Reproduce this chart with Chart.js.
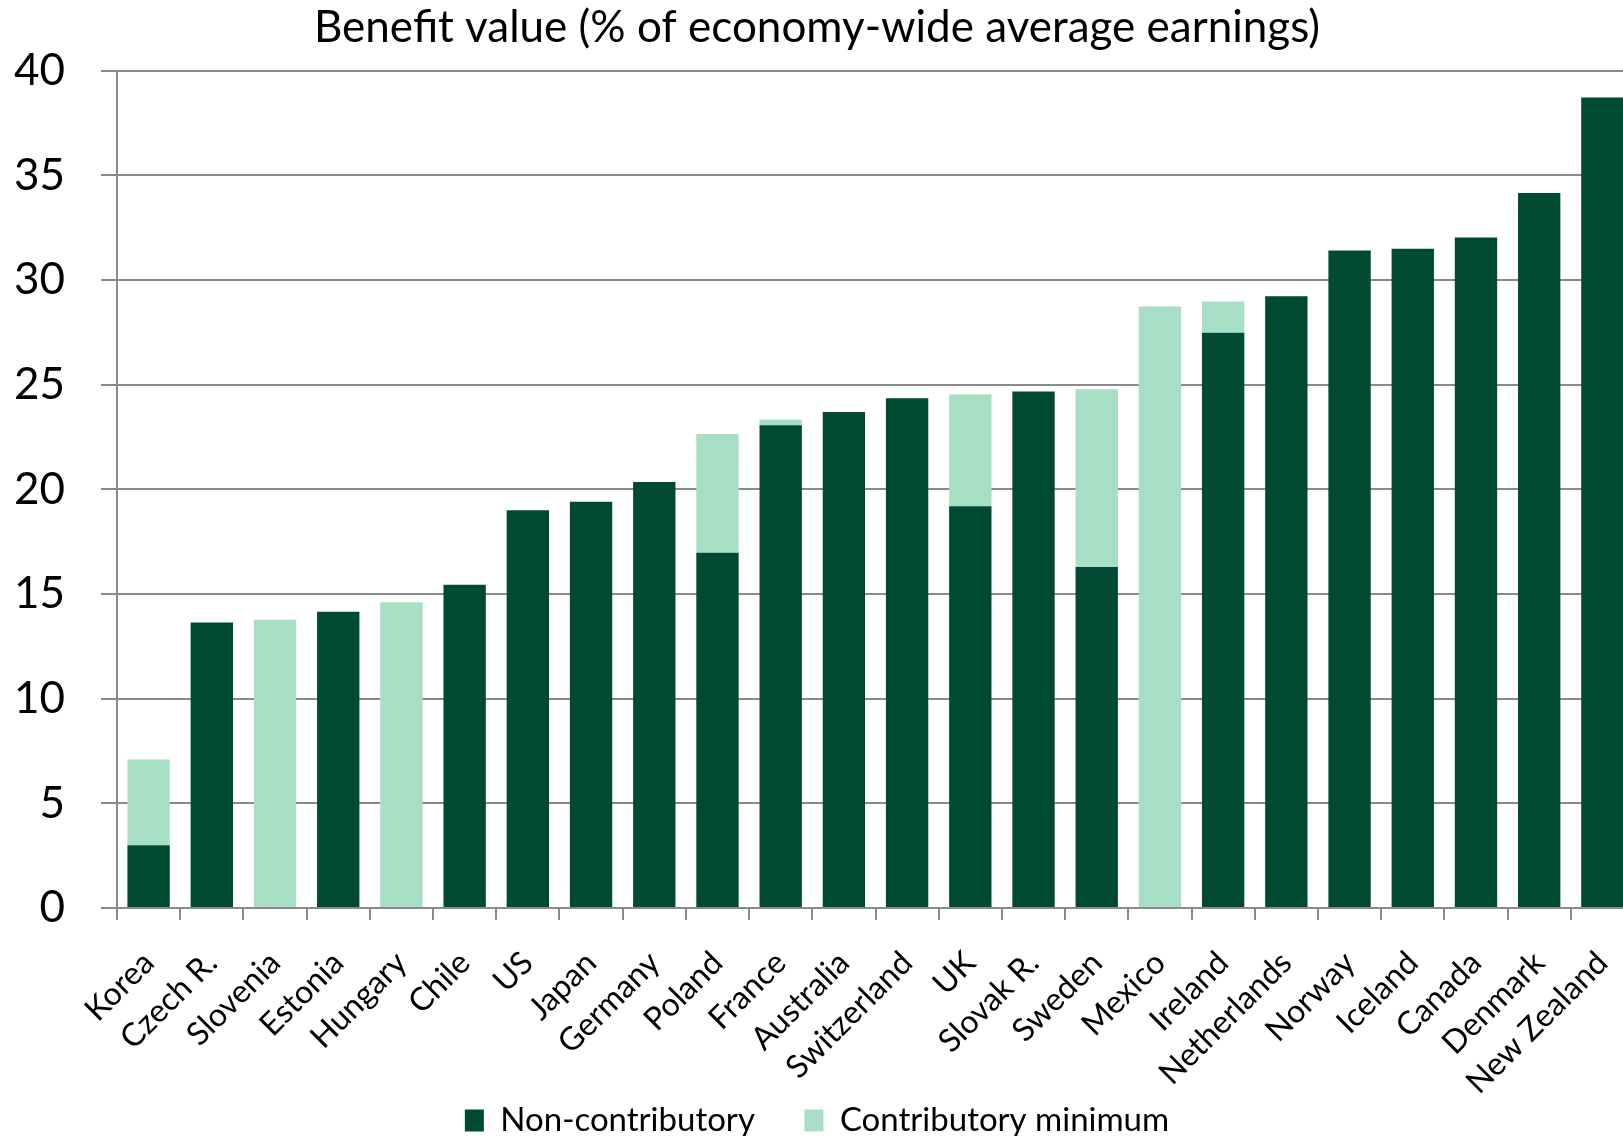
<!DOCTYPE html>
<html lang="en">
<head>
  <meta charset="UTF-8">
  <title>Benefit value</title>
  <script src="https://cdn.jsdelivr.net/npm/chart.js@4"></script>
  <style>
    * { box-sizing: border-box; margin: 0; padding: 0; }
    html, body { width: 1623px; height: 1136px; overflow: hidden; background: #fff; }
    canvas { display: block; }
  </style>
</head>
<body>
  <canvas id="chart" width="1634" height="1136"></canvas>
  <script>
    // ---------- Data ----------
    const countries = ['Korea', 'Czech R.', 'Slovenia', 'Estonia', 'Hungary', 'Chile', 'US', 'Japan',
      'Germany', 'Poland', 'France', 'Australia', 'Switzerland', 'UK', 'Slovak R.', 'Sweden', 'Mexico',
      'Ireland', 'Netherlands', 'Norway', 'Iceland', 'Canada', 'Denmark', 'New Zealand'];
    const nonContributory = [3.0, 13.64, 0, 14.15, 0, 15.45, 19.0, 19.41, 20.35, 16.97, 23.06, 23.7,
      24.36, 19.2, 24.68, 16.29, 0, 27.49, 29.23, 31.42, 31.5, 32.04, 34.16, 38.73];
    // extra amount stacked on top of the non-contributory part
    const contributoryMinimum = [4.1, 0, 13.77, 0, 14.61, 0, 0, 0, 0, 5.68, 0.28, 0,
      0, 5.34, 0, 8.49, 28.74, 1.49, 0, 0, 0, 0, 0, 0];
    const yTicks = [0, 5, 10, 15, 20, 25, 30, 35, 40];

    const DARK = '#004a33';
    const LIGHT = '#a6dfc3';
    const GRID = '#8a8a8a';
    const FONT = 'Lato, "Open Sans", sans-serif';

    new Chart(document.getElementById('chart'), {
      type: 'bar',
      data: {
        labels: countries,
        datasets: [
          { label: 'Non-contributory', data: nonContributory, backgroundColor: DARK, borderWidth: 0,
            barPercentage: 0.67, categoryPercentage: 1 },
          { label: 'Contributory minimum', data: contributoryMinimum, backgroundColor: LIGHT, borderWidth: 0,
            barPercentage: 0.67, categoryPercentage: 1 },
        ],
      },
      options: {
        responsive: false,
        animation: false,
        devicePixelRatio: 1,
        layout: { padding: { top: 0, left: 0, right: 0, bottom: -11 } },
        plugins: {
          title: {
            display: true,
            text: 'Benefit value (% of economy-wide average earnings)',
            color: '#000',
            font: { family: FONT, size: 44, weight: 'normal' },
            padding: { top: 1, bottom: 17 },
          },
          legend: {
            position: 'bottom',
            labels: {
              color: '#000',
              font: { family: FONT, size: 33 },
              boxWidth: 19,
              boxHeight: 22,
              padding: 0,
              generateLabels(chart) {
                const items = Chart.defaults.plugins.legend.labels.generateLabels(chart);
                items.forEach((it, i) => { if (i < items.length - 1) it.text += '\u2003\u2003'; });
                return items;
              },
            },
          },
          tooltip: { enabled: false },
        },
        scales: {
          x: {
            stacked: true,
            afterFit(scale) {
              scale.height = 196;
              // rotated labels hang to the left, keep the plot running to the right edge
              scale.paddingRight = 0;
              scale.paddingLeft = 0;
            },
            grid: { display: true, drawOnChartArea: false, drawTicks: true, tickLength: 12,
              color: GRID, lineWidth: 2, offset: true },
            border: { color: GRID, width: 2 },
            ticks: { color: '#000', font: { family: FONT, size: 32 }, maxRotation: 45, minRotation: 45,
              autoSkip: false, padding: 24 },
          },
          y: {
            stacked: true,
            min: 0,
            max: 40,
            afterFit(scale) { scale.width = 117; },
            afterBuildTicks(scale) { scale.ticks = yTicks.map(v => ({ value: v })); },
            grid: { color: GRID, lineWidth: 2, drawTicks: true, tickLength: 16 },
            border: { color: GRID, width: 2 },
            ticks: { color: '#000', font: { family: FONT, size: 44 }, padding: 36 },
          },
        },
      },
    });
  </script>
</body>
</html>
